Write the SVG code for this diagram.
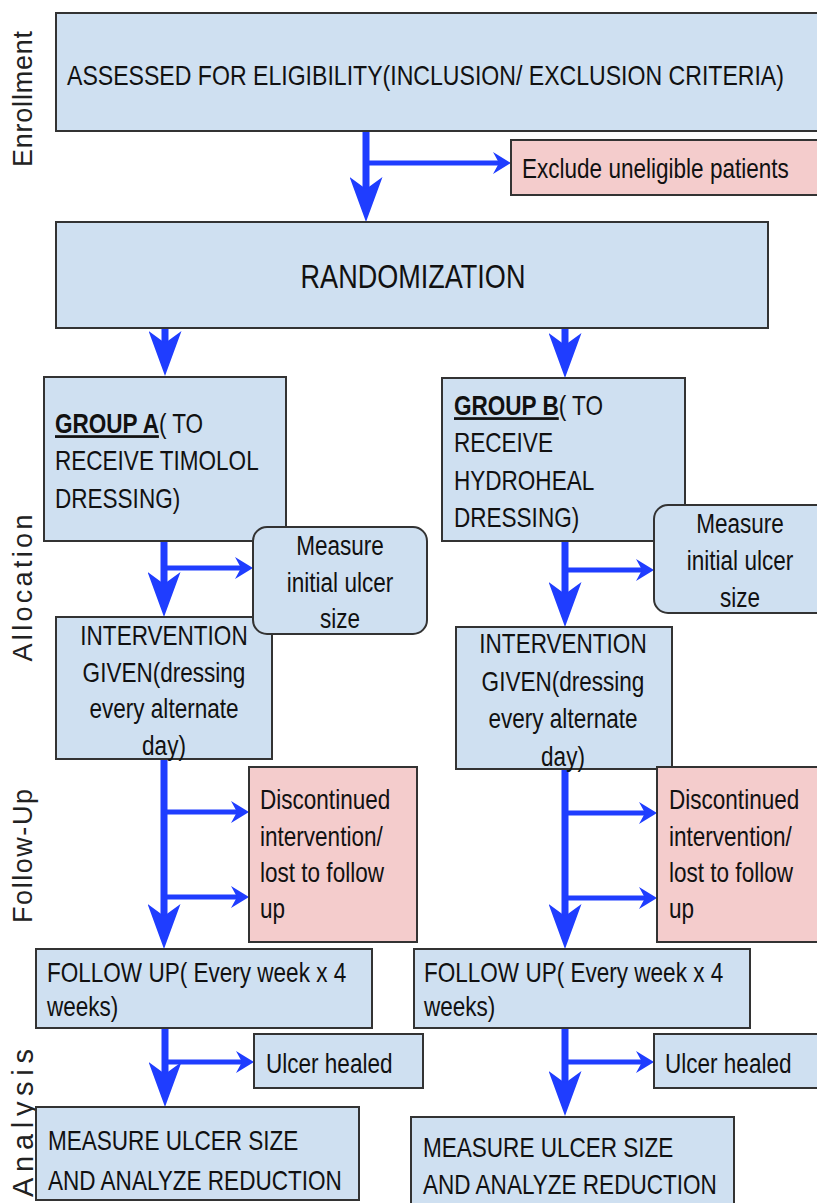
<svg xmlns="http://www.w3.org/2000/svg" width="817" height="1203" viewBox="0 0 817 1203">
<style>
.b{fill:#cfe0f1;stroke:#333;stroke-width:2}
.p{fill:#f4cccc;stroke:#333;stroke-width:2}
.t{font-family:"Liberation Sans",Arial,sans-serif;font-size:27.5px;fill:#111}
.s{font-family:"Liberation Sans",Arial,sans-serif;font-size:27px;fill:#222}
.v{stroke:#1f3dff;stroke-width:7;fill:none}
.h{stroke:#1f3dff;stroke-width:5;fill:none}
</style>
<defs>
<marker id="big" viewBox="0 0 45 33" markerWidth="45" markerHeight="33" refX="25" refY="16.5" orient="auto" markerUnits="userSpaceOnUse"><path d="M0,0 L45,16.5 L0,33 L12,16.5 Z" fill="#1f3dff"/></marker>
<marker id="sm" viewBox="0 0 18 22" markerWidth="18" markerHeight="22" refX="10" refY="11" orient="auto" markerUnits="userSpaceOnUse"><path d="M0,0 L18,11 L0,22 L6,11 Z" fill="#1f3dff"/></marker>
</defs>
<rect width="817" height="1203" fill="#fff"/>
<g id="labels">
<text class="s" transform="translate(32,99) rotate(-90)" text-anchor="middle" textLength="136">Enrollment</text>
<text class="s" transform="translate(32,588) rotate(-90)" text-anchor="middle" textLength="147">Allocation</text>
<text class="s" transform="translate(32,856) rotate(-90)" text-anchor="middle" textLength="134">Follow-Up</text>
<text class="s" style="font-size:29px" transform="translate(33,1123) rotate(-90)" text-anchor="middle" textLength="148">Analysis</text>
</g>
<g id="connectors">
<path class="v" d="M366,131 V202" marker-end="url(#big)"/>
<path class="h" d="M366,163 H503" marker-end="url(#sm)"/>
<path class="v" d="M165,328 V356" marker-end="url(#big)"/>
<path class="v" d="M565,328 V358" marker-end="url(#big)"/>
<path class="v" d="M164,541 V597" marker-end="url(#big)"/>
<path class="h" d="M164,568 H245" marker-end="url(#sm)"/>
<path class="v" d="M565,541 V607" marker-end="url(#big)"/>
<path class="h" d="M565,570 H646" marker-end="url(#sm)"/>
<path class="v" d="M164,759 V929" marker-end="url(#big)"/>
<path class="h" d="M164,812 H241" marker-end="url(#sm)"/>
<path class="h" d="M164,897 H241" marker-end="url(#sm)"/>
<path class="v" d="M565,769 V929" marker-end="url(#big)"/>
<path class="h" d="M565,813 H649" marker-end="url(#sm)"/>
<path class="h" d="M565,898 H649" marker-end="url(#sm)"/>
<path class="v" d="M165,1028 V1087" marker-end="url(#big)"/>
<path class="h" d="M165,1062 H246" marker-end="url(#sm)"/>
<path class="v" d="M565,1028 V1096" marker-end="url(#big)"/>
<path class="h" d="M565,1062 H646" marker-end="url(#sm)"/>
</g>
<g id="assessed">
<rect class="b" x="56" y="13" width="780" height="118"/>
<text class="t" transform="translate(67,85) scale(0.84,1)">ASSESSED FOR ELIGIBILITY(INCLUSION/ EXCLUSION CRITERIA)</text>
</g>
<g id="exclude">
<rect class="p" x="511" y="140" width="320" height="55"/>
<text class="t" transform="translate(522,178) scale(0.82,1)">Exclude uneligible patients</text>
</g>
<g id="randomization">
<rect class="b" x="56" y="222" width="712" height="106"/>
<text class="t" style="font-size:33px" transform="translate(413,288) scale(0.82,1)" text-anchor="middle">RANDOMIZATION</text>
</g>
<g id="groupA">
<rect class="b" x="44" y="377" width="242" height="164"/>
<text class="t" transform="translate(55,433) scale(0.82,1)"><tspan font-weight="bold" text-decoration="underline">GROUP A</tspan>( TO<tspan x="0" y="37">RECEIVE TIMOLOL</tspan><tspan x="0" y="75">DRESSING)</tspan></text>
</g>
<g id="groupB">
<rect class="b" x="442" y="378" width="243" height="163"/>
<text class="t" transform="translate(454,415) scale(0.82,1)"><tspan font-weight="bold" text-decoration="underline">GROUP B</tspan>( TO<tspan x="0" y="37">RECEIVE</tspan><tspan x="0" y="75">HYDROHEAL</tspan><tspan x="0" y="112">DRESSING)</tspan></text>
</g>
<g id="interventionA">
<rect class="b" x="56" y="617" width="216" height="142"/>
<text class="t" transform="translate(164,645) scale(0.82,1)" text-anchor="middle"><tspan x="0" y="0">INTERVENTION</tspan><tspan x="0" y="37">GIVEN(dressing</tspan><tspan x="0" y="73">every alternate</tspan><tspan x="0" y="110">day)</tspan></text>
</g>
<g id="measureA">
<rect class="b" x="253" y="527" width="174" height="107" rx="14"/>
<text class="t" transform="translate(340,555) scale(0.82,1)" text-anchor="middle"><tspan x="0" y="0">Measure</tspan><tspan x="0" y="37">initial ulcer</tspan><tspan x="0" y="73">size</tspan></text>
</g>
<g id="interventionB">
<rect class="b" x="456" y="627" width="216" height="142"/>
<text class="t" transform="translate(563,653) scale(0.82,1)" text-anchor="middle"><tspan x="0" y="0">INTERVENTION</tspan><tspan x="0" y="38">GIVEN(dressing</tspan><tspan x="0" y="75">every alternate</tspan><tspan x="0" y="113">day)</tspan></text>
</g>
<g id="measureB">
<rect class="b" x="654" y="505" width="180" height="108" rx="14"/>
<text class="t" transform="translate(740,533) scale(0.82,1)" text-anchor="middle"><tspan x="0" y="0">Measure</tspan><tspan x="0" y="37">initial ulcer</tspan><tspan x="0" y="74">size</tspan></text>
</g>
<g id="discontinuedA">
<rect class="p" x="249" y="767" width="168" height="175"/>
<text class="t" transform="translate(260,809) scale(0.82,1)"><tspan x="0" y="0">Discontinued</tspan><tspan x="0" y="37">intervention/</tspan><tspan x="0" y="73">lost to follow</tspan><tspan x="0" y="109">up</tspan></text>
</g>
<g id="discontinuedB">
<rect class="p" x="657" y="767" width="170" height="175"/>
<text class="t" transform="translate(669,809) scale(0.82,1)"><tspan x="0" y="0">Discontinued</tspan><tspan x="0" y="37">intervention/</tspan><tspan x="0" y="73">lost to follow</tspan><tspan x="0" y="109">up</tspan></text>
</g>
<g id="followA">
<rect class="b" x="36" y="949" width="336" height="79"/>
<text class="t" transform="translate(47,982) scale(0.82,1)"><tspan x="0" y="0">FOLLOW UP( Every week x 4</tspan><tspan x="0" y="34">weeks)</tspan></text>
</g>
<g id="followB">
<rect class="b" x="414" y="949" width="336" height="79"/>
<text class="t" transform="translate(424,982) scale(0.82,1)"><tspan x="0" y="0">FOLLOW UP( Every week x 4</tspan><tspan x="0" y="34">weeks)</tspan></text>
</g>
<g id="healedA">
<rect class="b" x="254" y="1034" width="169" height="54"/>
<text class="t" transform="translate(266,1073) scale(0.82,1)">Ulcer healed</text>
</g>
<g id="healedB">
<rect class="b" x="654" y="1034" width="175" height="54"/>
<text class="t" transform="translate(665,1073) scale(0.82,1)">Ulcer healed</text>
</g>
<g id="analyzeA">
<rect class="b" x="36" y="1107" width="323" height="93"/>
<text class="t" transform="translate(48,1150) scale(0.82,1)"><tspan x="0" y="0">MEASURE ULCER SIZE</tspan><tspan x="0" y="40">AND ANALYZE REDUCTION</tspan></text>
</g>
<g id="analyzeB">
<rect class="b" x="411" y="1117" width="323" height="95"/>
<text class="t" transform="translate(423,1157) scale(0.82,1)"><tspan x="0" y="0">MEASURE ULCER SIZE</tspan><tspan x="0" y="37">AND ANALYZE REDUCTION</tspan></text>
</g>
</svg>
